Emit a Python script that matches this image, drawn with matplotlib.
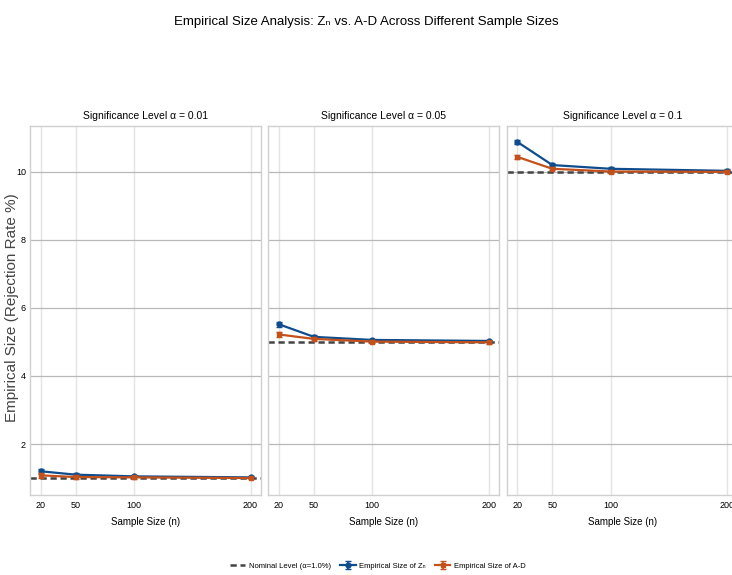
import numpy as np
import matplotlib
matplotlib.use('Agg')
import matplotlib.pyplot as plt

# Data
sample_sizes = [20, 50, 100, 200]
alphas = [0.01, 0.05, 0.1]
nominal = [1.0, 5.0, 10.0]
size_z = [[1.20, 1.10, 1.05, 1.02],
          [5.52, 5.15, 5.06, 5.03],
          [10.88, 10.20, 10.09, 10.03]]
size_ad = [[1.08, 1.03, 1.02, 1.00],
           [5.22, 5.09, 5.01, 4.99],
           [10.44, 10.09, 10.01, 10.00]]
err_z = [[0.07, 0.04, 0.03, 0.03],
         [0.08, 0.05, 0.04, 0.04],
         [0.07, 0.05, 0.04, 0.04]]
err_ad = [[0.07, 0.05, 0.04, 0.04],
          [0.07, 0.05, 0.04, 0.04],
          [0.07, 0.05, 0.04, 0.04]]

plt.rcParams['font.family'] = ['Liberation Sans', 'DejaVu Sans']

c_z = '#0f4c8c'
c_ad = '#c4501b'

fig, axes = plt.subplots(1, 3, figsize=(7.32, 5.75), dpi=100, sharey=True)
fig.subplots_adjust(left=0.041, right=1.008, top=0.781, bottom=0.139, wspace=0.032)

for i, ax in enumerate(axes):
  ax.set_facecolor('white')
  ax.axhline(nominal[i], color='#444444', ls='--', lw=1.8, dashes=(2.5, 1.5),
             label='Nominal Level (\u03b1=1.0%)', zorder=2)
  ax.errorbar(sample_sizes, size_z[i], yerr=err_z[i], color=c_z, marker='o',
              ms=3.5, lw=1.6, capsize=2, elinewidth=1.2,
              label='Empirical Size of Z\u2099', zorder=3)
  ax.errorbar(sample_sizes, size_ad[i], yerr=err_ad[i], color=c_ad, marker='s',
              ms=3.5, lw=1.6, capsize=2, elinewidth=1.2,
              label='Empirical Size of A-D', zorder=4)
  ax.set_title('Significance Level \u03b1 = %g' % alphas[i], fontsize=7.5, pad=5)
  ax.set_xlabel('Sample Size (n)', fontsize=7, labelpad=5)
  ax.set_xticks(sample_sizes)
  ax.set_xlim(11, 209)
  ax.grid(axis='x', color='#e4e4e4', lw=1.0)
  ax.grid(axis='y', color='#b8b8b8', lw=0.9)
  ax.set_axisbelow(True)
  ax.tick_params(axis='both', length=0, labelsize=6.5, pad=4)
  for s in ax.spines.values():
    s.set_color('#d0d0d0')
    s.set_linewidth(1.0)

axes[0].set_ylim(0.5, 11.35)
axes[0].set_yticks([2, 4, 6, 8, 10])
axes[0].tick_params(axis='y', pad=3)

fig.text(12 / 732, 0.465, 'Empirical Size (Rejection Rate %)', rotation=90,
         fontsize=11, color='#444444', ha='center', va='center')

fig.suptitle('Empirical Size Analysis: Z\u2099 vs. A-D Across Different Sample Sizes',
             fontsize=9.5, y=0.962, va='center')

handles, labels = axes[0].get_legend_handles_labels()
fig.legend(handles, labels, loc='center', ncol=3, frameon=False,
           fontsize=5.5, bbox_to_anchor=(378 / 732, 1 - 566 / 575),
           handlelength=2.0, handletextpad=0.5, columnspacing=1.2)

plt.savefig('out.png', dpi=100)
